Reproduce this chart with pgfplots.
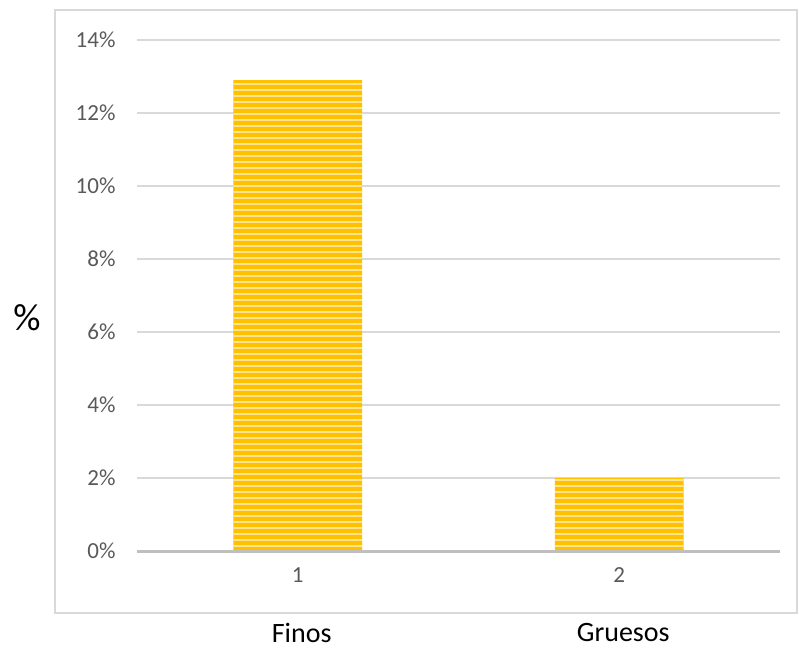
\documentclass[border=0pt]{standalone}
\usepackage{pgfplots}
\pgfplotsset{compat=1.18}
\usepackage{fontspec}
\setmainfont{Carlito}
\usetikzlibrary{patterns.meta}
\definecolor{barorange}{HTML}{FFC000}
\definecolor{stripe}{HTML}{FFE38F}
\definecolor{gridgray}{HTML}{D9D9D9}
\definecolor{axisgray}{HTML}{BFBFBF}
\definecolor{ticktext}{HTML}{595959}
\begin{document}
\begin{tikzpicture}[x=1pt,y=1pt]
\useasboundingbox (-137,-97) rectangle (662,551);
\draw[gridgray, line width=1.5pt] (-82,-62) rectangle (660,541);
\begin{axis}[at={(0,0)}, anchor=south west, scale only axis,
  width=643pt, height=511pt,
  xmin=0.5, xmax=2.5, ymin=0, ymax=14,
  ytick={0,2,4,6,8,10,12,14}, xtick={1,2}, xticklabels={1,2},
  axis x line*=bottom, axis y line*=left,
  x axis line style={draw=none}, y axis line style={draw=none},
  major tick length=0pt,
  ymajorgrids, grid style={gridgray, line width=1.2pt},
  /pgf/number format/assume math mode=true,
  yticklabel={\pgfmathprintnumber{\tick}\%},
  ticklabel style={font=\fontsize{23}{27}\selectfont, text=ticktext},
  yticklabel style={xshift=-18pt},
  xticklabel style={yshift=-13pt},
  clip=false,
]
\addplot[ybar, bar width=0.4, draw=none, fill=barorange,
  postaction={pattern={Lines[angle=0,distance=6pt,line width=2pt]}, pattern color=stripe}]
  coordinates {(1,12.9) (2,2.0)};
\draw[axisgray, line width=3pt] (axis cs:0.5,0) -- (axis cs:2.5,0);
\node[font=\fontsize{28}{32}\selectfont, text=black] at (axis cs:1,0) [yshift=-82pt, xshift=4pt] {Finos};
\node[font=\fontsize{28}{32}\selectfont, text=black] at (axis cs:2,0) [yshift=-82pt, xshift=4pt] {Gruesos};
\end{axis}
\node[font=\fontsize{38}{42}\selectfont, text=black] at (-110,233) {\%};
\end{tikzpicture}
\end{document}
